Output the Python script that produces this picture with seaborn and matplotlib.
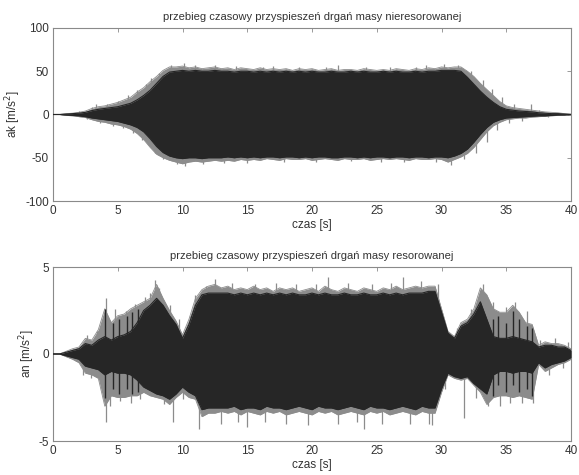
import numpy as np
import pandas as pd
import matplotlib
matplotlib.use("Agg")
import matplotlib.pyplot as plt
import seaborn as sns

# time grid of the read envelope samples [s]
T = np.arange(0, 40.5, 0.5)

# ---- upper panel: ak [m/s^2] (unsprung mass) ----
TOP_UP_OUT = [0, 0, 1, 1.5, 2.5, 4, 7, 9, 10, 12,
              14, 17, 20, 26, 31, 38, 44, 51, 55, 55,
              56, 54, 55, 53, 54, 55, 53, 54, 52, 54,
              53, 52, 54, 52, 53, 52, 53, 51, 53, 52,
              53, 51, 52, 53, 51, 52, 52, 51, 53, 52,
              51, 52, 51, 53, 52, 51, 53, 52, 54, 53,
              55, 54, 55, 55, 50, 44, 36, 29, 22, 15,
              10, 8, 7, 6, 5, 4, 3, 2.5, 2, 1,
              0.5]
TOP_LO_OUT = [0, 0, -1, -1.5, -2.5, -3.5, -6, -8, -9, -11,
              -12, -14, -17, -22, -29, -38, -46, -50, -53, -55,
              -57, -55, -54, -55, -54, -53, -54, -53, -54, -52,
              -53, -52, -53, -51, -52, -53, -51, -52, -52, -51,
              -53, -52, -51, -52, -53, -51, -52, -52, -51, -53,
              -52, -51, -52, -51, -52, -53, -51, -52, -52, -51,
              -52, -55, -52, -49, -45, -38, -29, -20, -13, -9,
              -6, -5, -4, -4, -3, -2.5, -2, -1.5, -1, -0.5,
              0]
TOP_UP_IN = [0, 0, 0.5, 1, 1.5, 2.5, 4.5, 6, 7, 8,
             9, 11, 13, 17, 22, 28, 36, 44, 49, 50,
             51, 50, 51, 50, 50, 51, 50, 50, 49, 50,
             50, 49, 50, 49, 50, 49, 50, 49, 50, 49,
             50, 49, 49, 50, 49, 49, 50, 49, 50, 49,
             49, 50, 49, 50, 49, 49, 50, 49, 50, 50,
             51, 51, 51, 50, 43, 35, 27, 20, 14, 9,
             6, 5, 4, 3.5, 3, 2, 1.5, 1, 1, 0.5,
             0]
TOP_LO_IN = [0, 0, -0.5, -1, -1.5, -2.5, -4, -5, -6, -7,
             -8, -10, -12, -15, -20, -28, -37, -44, -48, -50,
             -51, -50, -50, -51, -50, -50, -50, -49, -50, -49,
             -50, -49, -50, -49, -49, -50, -49, -49, -50, -49,
             -50, -49, -49, -50, -50, -49, -49, -50, -49, -50,
             -49, -49, -50, -49, -49, -50, -49, -49, -50, -49,
             -49, -50, -48, -45, -40, -32, -23, -15, -9, -6,
             -4, -3.5, -3, -2.5, -2, -1.5, -1.5, -1, -0.5, -0.5,
             0]
# single peaks sticking out of the band (gray)
TOP_SPIKE_T = [2.0, 2.6, 3.0, 3.3, 3.6, 4.2, 4.6, 5.0, 5.4, 5.8,
               6.2, 6.5, 6.9, 7.2, 7.6, 7.9, 8.2, 8.5,
               9.1, 9.6, 10.1, 10.2, 11.0, 11.6, 12.5, 13.2, 14.1, 15.0,
               16.2, 17.0, 17.8, 19.0, 20.3, 21.1, 22.0, 23.0, 24.2, 25.3,
               26.0, 27.1, 28.0, 28.8, 29.6, 30.2, 30.7, 31.3, 31.7,
               32.3, 32.7, 33.2, 33.5, 33.9, 34.3, 34.7, 35.2, 35.6, 36.2,
               36.9, 37.5, 38.2]
TOP_SPIKE_V = [4, -5, 9, 12, -10, 12, -13, 16, -16, 22,
               -21, 28, -30, 35, 42, -44, 48, -51,
               57, -57, 59, -59, 57, -57, 57, -56, 56, -56,
               55, 56, -55, 55, -55, 55, 57, -54, 55, -55,
               55, -55, 55, 57, -55, 58, -58, 57, -52,
               50, -44, 40, -32, 30, -18, 20, -10, 12, -7,
               12, 5, -3]

# ---- lower panel: an [m/s^2] (sprung mass) ----
BOT_UP_OUT = [0, 0, 0.15, 0.3, 0.4, 0.9, 0.8, 1.4, 2.6, 1.8,
              2.2, 2.3, 2.6, 2.8, 3.0, 3.2, 4.0, 3.2, 2.5, 1.9,
              1.1, 2.0, 3.2, 3.7, 3.9, 4.0, 3.8, 3.9, 3.7, 3.8,
              3.7, 3.9, 3.7, 3.8, 3.6, 3.8, 3.7, 3.8, 3.6, 3.7,
              3.8, 3.6, 3.9, 3.7, 3.6, 3.8, 3.7, 3.6, 3.8, 3.7,
              3.6, 3.8, 3.7, 3.9, 3.7, 3.8, 3.9, 3.8, 3.9, 3.9,
              2.6, 1.3, 1.0, 1.8, 2.0, 2.6, 3.8, 3.4, 2.6, 2.4,
              2.4, 2.8, 2.4, 1.8, 1.7, 0.5, 0.7, 0.6, 0.6, 0.5,
              0.3]
BOT_LO_OUT = [0, 0, -0.15, -0.3, -0.5, -1.1, -1.2, -1.4, -3.0, -2.4,
              -2.5, -2.5, -2.4, -2.4, -2.2, -2.4, -2.5, -2.6, -2.9, -2.5,
              -2.2, -2.5, -2.6, -3.6, -3.4, -3.4, -3.3, -3.4, -3.3, -3.5,
              -3.3, -3.4, -3.5, -3.3, -3.4, -3.3, -3.5, -3.4, -3.3, -3.4,
              -3.5, -3.3, -3.4, -3.3, -3.5, -3.4, -3.3, -3.4, -3.5, -3.3,
              -3.4, -3.3, -3.5, -3.4, -3.3, -3.4, -3.5, -3.3, -3.4, -3.4,
              -2.2, -1.2, -1.4, -1.5, -1.4, -1.8, -2.2, -2.9, -2.5, -2.4,
              -2.4, -2.5, -2.4, -2.5, -2.6, -0.6, -1.0, -0.8, -0.6, -0.5,
              -0.3]
BOT_UP_IN = [0, 0, 0.1, 0.2, 0.3, 0.6, 0.5, 0.8, 1.0, 0.8,
             1.0, 1.1, 1.3, 1.8, 2.5, 2.8, 3.2, 2.8, 2.2, 1.7,
             0.9, 1.7, 2.8, 3.4, 3.5, 3.5, 3.5, 3.5, 3.4, 3.5,
             3.4, 3.5, 3.4, 3.5, 3.4, 3.5, 3.4, 3.5, 3.4, 3.4,
             3.5, 3.4, 3.5, 3.4, 3.4, 3.5, 3.4, 3.4, 3.5, 3.4,
             3.4, 3.5, 3.4, 3.5, 3.4, 3.5, 3.5, 3.5, 3.6, 3.6,
             2.4, 1.2, 0.9, 1.6, 1.8, 2.3, 3.0, 2.0, 1.0, 0.9,
             0.9, 1.0, 0.9, 0.8, 0.7, 0.4, 0.5, 0.5, 0.4, 0.4,
             0.2]
BOT_LO_IN = [0, 0, -0.1, -0.2, -0.3, -0.7, -0.8, -0.9, -1.2, -1.0,
             -1.1, -1.1, -1.2, -1.5, -1.9, -2.1, -2.3, -2.4, -2.6, -2.3,
             -1.9, -2.2, -2.4, -3.2, -3.1, -3.1, -3.1, -3.1, -3.0, -3.2,
             -3.1, -3.1, -3.2, -3.0, -3.1, -3.1, -3.2, -3.1, -3.0, -3.1,
             -3.2, -3.0, -3.1, -3.1, -3.2, -3.1, -3.0, -3.1, -3.2, -3.0,
             -3.1, -3.1, -3.2, -3.1, -3.0, -3.1, -3.2, -3.0, -3.1, -3.1,
             -2.0, -1.1, -1.3, -1.4, -1.3, -1.7, -2.0, -2.3, -1.2, -1.0,
             -1.0, -1.1, -1.0, -1.0, -1.1, -0.5, -0.8, -0.6, -0.5, -0.4,
             -0.2]
BOT_SPIKE_T = [1.8, 2.3, 2.6, 2.9, 3.4, 3.7, 4.1, 4.1, 4.4, 4.8,
               5.2, 5.6, 6.0, 6.3, 6.7, 7.1, 7.5, 7.9, 8.2, 8.6,
               9.0, 9.3, 9.7, 10.0, 10.6, 11.0, 11.3, 11.8, 12.5, 13.0,
               13.8, 14.3, 15.0, 15.6, 16.4, 17.2, 18.0, 18.8, 19.7, 20.3,
               21.2, 22.0, 22.8, 23.5, 24.0, 24.6, 25.4, 26.1, 27.0, 27.6,
               28.4, 29.0, 29.3, 29.7, 30.3, 31.2, 31.7, 32.3, 32.7, 33.2,
               33.6, 34.0, 34.5, 35.0, 35.3, 35.7, 36.2, 36.6, 37.1, 37.6,
               38.3, 38.8, 39.4, 39.8]
BOT_SPIKE_V = [-0.4, -1.2, 1.1, -1.4, 1.3, -1.6, 3.2, -3.9, -3.0, 2.6,
               -2.7, 2.5, -2.8, 2.9, -2.6, 3.3, 3.5, 4.25, 3.8, -2.9,
               2.8, -3.9, 2.0, -2.6, 2.2, 3.4, -4.3, 3.9, 4.3, -4.0,
               4.1, -3.9, -4.2, 4.0, -3.9, 4.1, -4.0, 4.0, -4.1, 4.0,
               4.4, -4.0, 4.1, -3.9, -4.3, 4.0, -4.0, 4.1, 4.4, -4.0,
               4.2, -4.0, -4.1, 4.0, -2.0, 1.5, -3.7, 2.6, -2.5, 4.0,
               -3.0, 3.0, -3.0, 2.7, -2.8, 3.0, -2.8, 2.5, -2.8, 0.8,
               -1.2, 0.9, -0.8, 0.7]
# dark strokes inside the gray parts of the lower trace
BOT_DARK_T = [4.0, 4.6, 5.1, 5.7, 6.1, 6.6, 34.0, 34.4, 35.0, 35.5, 36.0, 36.6, 37.0]
BOT_DARK_LO = [-2.5, -2.0, -2.3, -2.0, -2.3, -2.2, -2.4, -1.8, -2.2, -1.8, -2.2, -2.0, -2.4]
BOT_DARK_HI = [2.6, 1.8, 2.0, 2.2, 2.4, 2.6, 2.0, 2.2, 1.8, 2.5, 2.0, 1.6, 1.5]

TITLES = ["przebieg czasowy przyspieszeń drgań masy nieresorowanej",
          "przebieg czasowy przyspieszeń drgań masy resorowanej"]
YLABELS = ["ak [m/s$^2$]", "an [m/s$^2$]"]
XLABEL = "czas [s]"
X_TICKS = [0, 5, 10, 15, 20, 25, 30, 35, 40]
Y_TICKS = [[-100, -50, 0, 50, 100], [-5, 0, 5]]
Y_LIMS = [(-100, 100), (-5, 5)]

sns.set_style("white")
plt.rcParams['font.family'] = ['Liberation Sans', 'DejaVu Sans']
plt.rcParams['axes.unicode_minus'] = False

DARK = "#262626"
GRAY = "#8c8c8c"
TEXT = "#333333"
SPINE = "#8a8a8a"

fig = plt.figure(figsize=(5.79, 4.75), dpi=100)
ax1 = fig.add_axes([53 / 579, 1 - 201 / 475, 518 / 579, 173 / 475])
ax2 = fig.add_axes([53 / 579, 1 - 441 / 475, 518 / 579, 174 / 475])

panels = [
    (ax1, TOP_UP_OUT, TOP_LO_OUT, TOP_UP_IN, TOP_LO_IN, TOP_SPIKE_T, TOP_SPIKE_V),
    (ax2, BOT_UP_OUT, BOT_LO_OUT, BOT_UP_IN, BOT_LO_IN, BOT_SPIKE_T, BOT_SPIKE_V),
]
LABEL_X = [-0.058, -0.031]

for i, (ax, uo, lo, ui, li, st, sv) in enumerate(panels):
    df = pd.DataFrame({"t": T, "uo": uo, "lo": lo, "ui": ui, "li": li})
    ax.vlines(st, 0, sv, color=GRAY, lw=0.9, zorder=1)
    ax.fill_between(df["t"], df["lo"], df["uo"], color=GRAY, lw=0, zorder=2)
    ax.fill_between(df["t"], df["li"], df["ui"], color=DARK, lw=0, zorder=3)
    sns.lineplot(data=df, x="t", y="uo", ax=ax, color=GRAY, lw=0.6, zorder=2)
    sns.lineplot(data=df, x="t", y="lo", ax=ax, color=GRAY, lw=0.6, zorder=2)
    sns.lineplot(data=df, x="t", y="ui", ax=ax, color=DARK, lw=0.8, zorder=4)
    sns.lineplot(data=df, x="t", y="li", ax=ax, color=DARK, lw=0.8, zorder=4)
    if i == 1:
        ax.vlines(BOT_DARK_T, BOT_DARK_LO, BOT_DARK_HI, color=DARK, lw=1.0, zorder=4)

    ax.set_xlim(0, 40)
    ax.set_ylim(*Y_LIMS[i])
    ax.set_xticks(X_TICKS)
    ax.set_yticks(Y_TICKS[i])
    ax.tick_params(direction="in", top=True, right=True, length=3,
                   width=0.6, color=SPINE, labelsize=8.5, labelcolor=TEXT, pad=3)
    for sp in ax.spines.values():
        sp.set_color(SPINE)
        sp.set_linewidth(0.8)
    ax.set_title(TITLES[i], fontsize=8, color=TEXT, pad=6)
    ax.set_xlabel(XLABEL, fontsize=8.5, color=TEXT, labelpad=1)
    ax.set_ylabel(YLABELS[i], fontsize=8.5, color=TEXT)
    ax.yaxis.set_label_coords(LABEL_X[i], 0.5)
    ax.grid(False)

fig.savefig("out.png", dpi=100, facecolor="white")
